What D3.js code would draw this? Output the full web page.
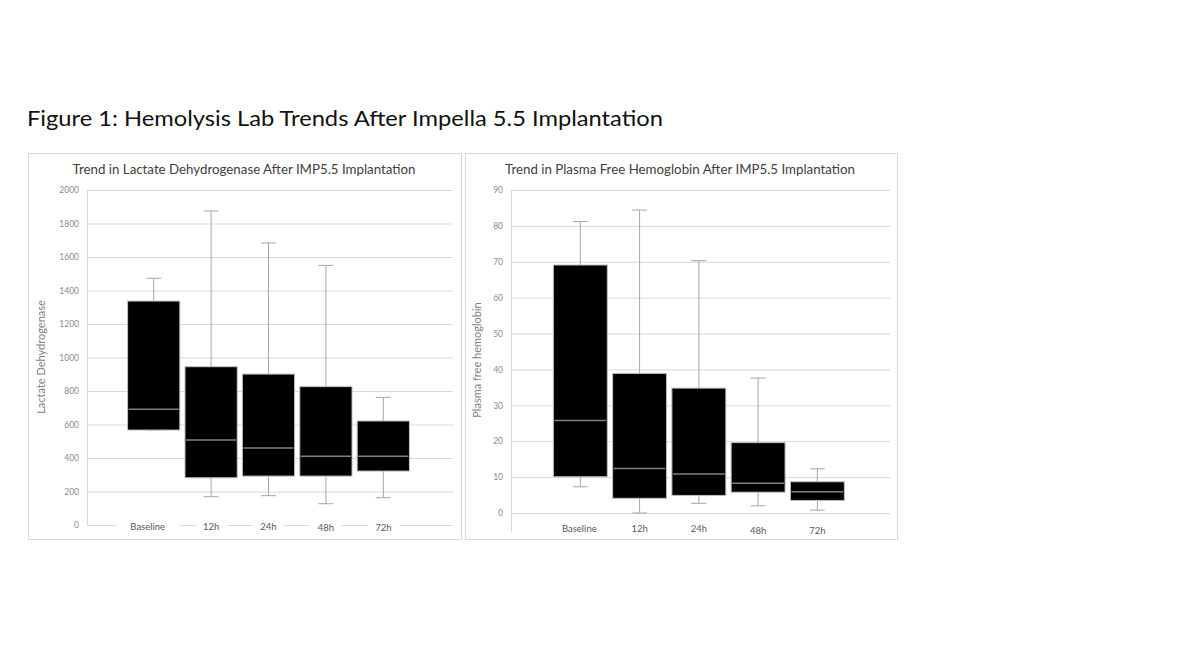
<!DOCTYPE html>
<html>
<head>
<meta charset="utf-8">
<script src="https://cdn.jsdelivr.net/npm/d3@7"></script>
<style>
  body { margin: 0; background: #fff; }
  text { font-family: Lato, "Open Sans", sans-serif; }
</style>
</head>
<body>
<div id="fig"></div>
<script>
// categories on the x axis
const categories = ['Baseline', '12h', '24h', '48h', '72h']

// lactate dehydrogenase box plot stats
const ldhMin    = [567, 169, 175, 127, 163]
const ldhQ1     = [567, 282, 292, 292, 322]
const ldhMedian = [691, 507, 460, 410, 410]
const ldhQ3     = [1337, 945, 901, 826, 621]
const ldhMax    = [1473, 1875, 1684, 1550, 762]
const ldhTicks  = [0, 200, 400, 600, 800, 1000, 1200, 1400, 1600, 1800, 2000]

// plasma free hemoglobin box plot stats
const pfhMin    = [7.3, 0, 2.7, 2.0, 0.8]
const pfhQ1     = [10.1, 4.1, 4.9, 5.8, 3.5]
const pfhMedian = [25.8, 12.4, 10.9, 8.3, 5.9]
const pfhQ3     = [69.1, 38.9, 34.8, 19.6, 8.7]
const pfhMax    = [81.2, 84.4, 70.3, 37.6, 12.3]
const pfhTicks  = [0, 10, 20, 30, 40, 50, 60, 70, 80, 90]

const W = 1187, H = 667
const svg = d3.select('#fig').append('svg')
  .attr('width', W)
  .attr('height', H)

svg.append('text')
  .attr('x', 27)
  .attr('y', 126)
  .attr('font-size', 22)
  .attr('fill', '#111')
  .attr('textLength', 636)
  .attr('lengthAdjust', 'spacingAndGlyphs')
  .text('Figure 1: Hemolysis Lab Trends After Impella 5.5 Implantation')

function boxChart(cfg) {
  const rows = categories.map((c, i) => ({
    cat: c, min: cfg.min[i], q1: cfg.q1[i], med: cfg.med[i], q3: cfg.q3[i], max: cfg.max[i]
  }))

  // panel frame
  svg.append('rect')
    .attr('x', cfg.frame[0] + 0.5).attr('y', cfg.frame[1] + 0.5)
    .attr('width', cfg.frame[2]).attr('height', cfg.frame[3])
    .attr('fill', '#fff').attr('stroke', '#d9d9d9')

  const y = d3.scaleLinear().domain([0, d3.max(cfg.ticks)]).range([cfg.y0, cfg.y1])
  const x = d3.scaleBand().domain(categories).range(cfg.xr)
    .paddingInner(0.09).paddingOuter(0.045)

  const g = svg.append('g')

  // gridlines + tick labels
  const ax = g.append('g')
    .attr('transform', `translate(${cfg.gx[0]},0)`)
    .call(d3.axisLeft(y).tickValues(cfg.ticks).tickFormat(d3.format('d'))
      .tickSize(-(cfg.gx[1] - cfg.gx[0])).tickPadding(8))
  ax.select('.domain').remove()
  ax.selectAll('.tick line').attr('stroke', '#d9d9d9')
  ax.selectAll('.tick text')
    .attr('fill', '#8c8c8c').attr('font-size', 8.5)
    .style('font-family', 'Lato, sans-serif')

  // vertical axis line
  g.append('line')
    .attr('x1', cfg.gx[0] + 0.5).attr('x2', cfg.gx[0] + 0.5)
    .attr('y1', cfg.y1).attr('y2', cfg.axisBottom)
    .attr('stroke', '#d9d9d9')

  // chart title
  g.append('text')
    .attr('x', cfg.titleX).attr('y', 174)
    .attr('text-anchor', 'middle')
    .attr('font-size', 13.3).attr('fill', '#404040')
    .text(cfg.title)

  // y axis title
  g.append('text')
    .attr('transform', `translate(${cfg.ytX},${cfg.ytY}) rotate(-90)`)
    .attr('text-anchor', 'middle')
    .attr('font-size', 11).attr('fill', '#7f7f7f')
    .text(cfg.yTitle)

  const bw = x.bandwidth()
  const cx = d => x(d.cat) + bw / 2
  const capW = 15

  const box = g.selectAll('.box').data(rows).join('g').attr('class', 'box')

  // whiskers
  box.append('line')
    .attr('x1', cx).attr('x2', cx)
    .attr('y1', d => y(d.min)).attr('y2', d => y(d.max))
    .attr('stroke', '#a6a6a6').attr('stroke-width', 1)
  box.append('line')
    .attr('x1', d => cx(d) - capW / 2).attr('x2', d => cx(d) + capW / 2)
    .attr('y1', d => y(d.max)).attr('y2', d => y(d.max))
    .attr('stroke', '#a6a6a6')
  box.append('line')
    .attr('x1', d => cx(d) - capW / 2).attr('x2', d => cx(d) + capW / 2)
    .attr('y1', d => y(d.min)).attr('y2', d => y(d.min))
    .attr('stroke', '#a6a6a6')

  // box body
  box.append('rect')
    .attr('x', d => x(d.cat)).attr('width', bw)
    .attr('y', d => y(d.q3)).attr('height', d => y(d.q1) - y(d.q3))
    .attr('fill', '#000').attr('stroke', '#bfbfbf').attr('stroke-width', 1)

  // median
  box.append('line')
    .attr('x1', d => x(d.cat) + 1).attr('x2', d => x(d.cat) + bw - 1)
    .attr('y1', d => y(d.med)).attr('y2', d => y(d.med))
    .attr('stroke', '#7f7f7f').attr('stroke-width', 1.5)

  // category labels (with white patch like the original)
  const lab = g.selectAll('.lab').data(categories).join('g').attr('class', 'lab')
    .attr('transform', (d, i) => `translate(${x(d) + bw / 2 + (i === 0 ? cfg.firstShift : 0)},${cfg.labelY + (i > 2 ? 1.5 : 0)})`)
  lab.append('rect')
    .attr('x', d => -(d.length * 3.3) - 6).attr('y', -6)
    .attr('width', d => d.length * 6.6 + 12).attr('height', 12)
    .attr('fill', cfg.labelPatch ? '#fff' : 'none')
  lab.append('text')
    .attr('text-anchor', 'middle').attr('dy', '0.35em')
    .attr('font-size', 9.5).attr('fill', '#595959')
    .text(d => d)
}

boxChart({
  min: ldhMin, q1: ldhQ1, med: ldhMedian, q3: ldhQ3, max: ldhMax, ticks: ldhTicks,
  frame: [28, 153, 433, 386],
  y0: 525, y1: 190,
  xr: [125, 412],
  gx: [87, 453],
  axisBottom: 525,
  title: 'Trend in Lactate Dehydrogenase After IMP5.5 Implantation',
  titleX: 244,
  yTitle: 'Lactate Dehydrogenase',
  ytX: 45, ytY: 357,
  labelY: 526.5, labelPatch: true, firstShift: -6
})

boxChart({
  min: pfhMin, q1: pfhQ1, med: pfhMedian, q3: pfhQ3, max: pfhMax, ticks: pfhTicks,
  frame: [465, 153, 432, 386],
  y0: 513, y1: 190,
  xr: [550.7, 847],
  gx: [511, 890],
  axisBottom: 532,
  title: 'Trend in Plasma Free Hemoglobin After IMP5.5 Implantation',
  titleX: 680,
  yTitle: 'Plasma free hemoglobin',
  ytX: 481, ytY: 360,
  labelY: 529, labelPatch: false, firstShift: -1
})
</script>
</body>
</html>
